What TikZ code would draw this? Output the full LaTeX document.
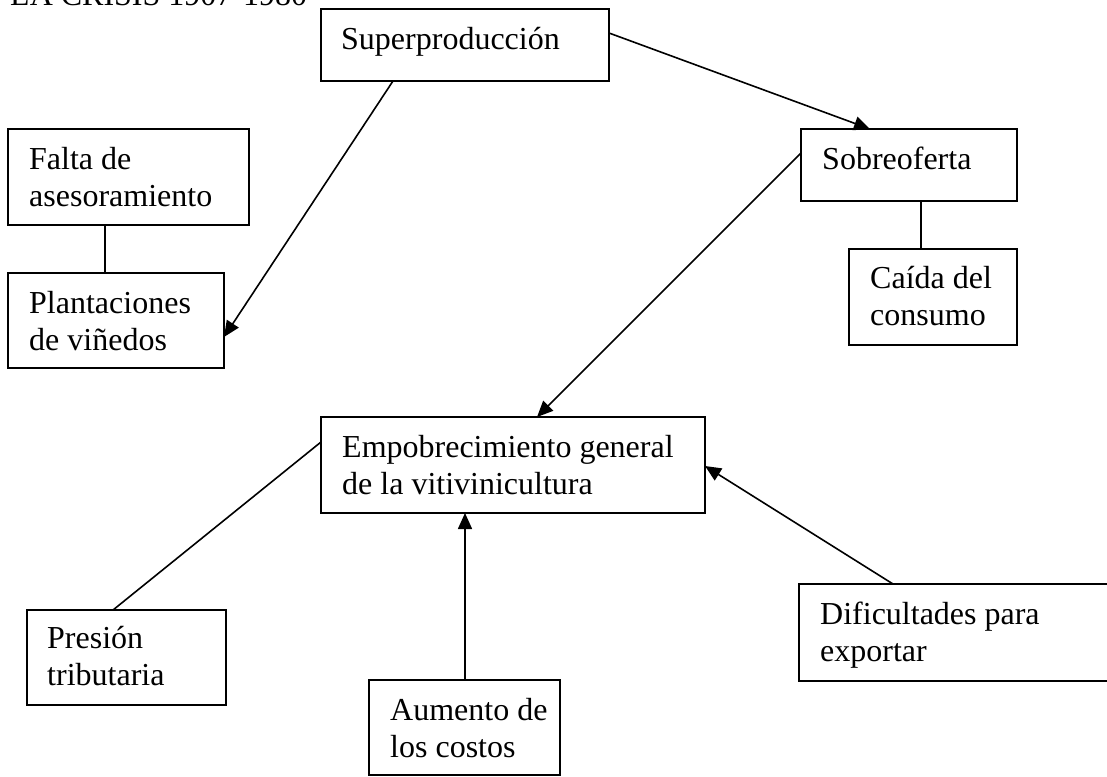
\documentclass[tikz,border=0pt]{standalone}
\usepackage{fontspec}
\setmainfont{Liberation Serif}
\usetikzlibrary{arrows.meta,calc}
\begin{document}
\begin{tikzpicture}[x=1pt,y=-1pt,
  box/.style={draw, line width=1.8pt, anchor=north west, inner sep=0pt, outer sep=0pt},
  txt/.style={anchor=north west, inner sep=0pt, align=left, font=\fontsize{32}{36.8}\selectfont},
  link/.style={line width=1.6pt},
  arr/.style={link, -{Triangle[length=16pt,width=14pt]}}]
\useasboundingbox (0,0) rectangle (1107,776);
\clip (0,0) rectangle (1107,776);

% title (cut at top)
\node[txt, anchor=base west] (title) at (10,6) {LA CRISIS 1907-1980};

% boxes
\node[box, minimum width=288pt, minimum height=72pt] (super) at (321,9) {};
\node[box, minimum width=241pt, minimum height=96pt] (falta) at (8,129) {};
\node[box, minimum width=216pt, minimum height=95pt] (plant) at (8,273) {};
\node[box, minimum width=216pt, minimum height=72pt] (sobre) at (801,129) {};
\node[box, minimum width=168pt, minimum height=96pt] (caida) at (849,249) {};
\node[box, minimum width=384pt, minimum height=96pt] (empo) at (321,417) {};
\node[box, minimum width=199pt, minimum height=95pt] (pres) at (27,610) {};
\node[box, minimum width=191pt, minimum height=95pt] (aum) at (369,680) {};
\node[box, minimum width=330pt, minimum height=97pt] (dif) at (799,584) {};

% texts
\node[txt] (superT) at ($(super.north west)+(20,14.24)$) {\strut Superproducción};
\node[txt] (faltaT) at ($(falta.north west)+(21,14.24)$) {\strut Falta de\\asesoramiento};
\node[txt] (plantT) at ($(plant.north west)+(21,14.24)$) {\strut Plantaciones\\de viñedos};
\node[txt] (sobreT) at ($(sobre.north west)+(21,14.24)$) {\strut Sobreoferta};
\node[txt] (caidaT) at ($(caida.north west)+(21,13.24)$) {\strut Caída del\\consumo};
\node[txt] (empoT) at ($(empo.north west)+(21,14.24)$) {\strut Empobrecimiento general\\de la vitivinicultura};
\node[txt] (presT) at ($(pres.north west)+(20,12.24)$) {\strut Presión\\tributaria};
\node[txt] (aumT) at ($(aum.north west)+(21,14.24)$) {\strut Aumento de\\los costos};
\node[txt] (difT) at ($(dif.north west)+(21,14.24)$) {\strut Dificultades para\\exportar};

% connectors
\draw[arr] ([xshift=72pt]super.south west) -- ([yshift=-64pt]plant.north east);
\draw[arr] ([yshift=-24pt]super.north east) -- ([xshift=69pt]sobre.north west);
\draw[link] ([xshift=97pt]falta.south west) -- ([xshift=97pt]plant.north west);
\draw[arr] ([yshift=-24pt]sobre.north west) -- ([xshift=216pt]empo.north west);
\draw[link] ([xshift=120pt]sobre.south west) -- ([xshift=72pt]caida.north west);
\draw[link] ([xshift=86pt]pres.north west) -- ([yshift=-25pt]empo.north west);
\draw[arr] ([xshift=96pt]aum.north west) -- ([xshift=144pt]empo.south west);
\draw[arr] ([xshift=94pt]dif.north west) -- ([yshift=-49pt]empo.north east);
\end{tikzpicture}
\end{document}
